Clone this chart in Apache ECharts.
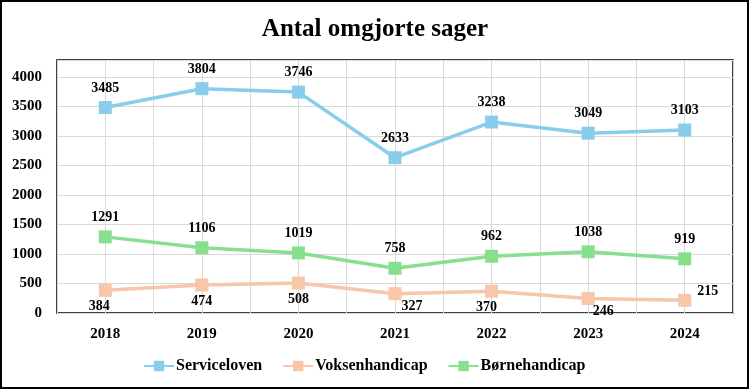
<!DOCTYPE html>
<html>
<head>
<meta charset="utf-8">
<script src="https://cdn.jsdelivr.net/npm/echarts@6/dist/echarts.min.js"></script>
<style>
html,body{margin:0;padding:0;background:#fff;}
#chart{width:750px;height:390px;}
</style>
</head>
<body>
<div id="chart"></div>
<script>
const categories = ['2018','2019','2020','2021','2022','2023','2024'];
const serviceloven = [3485, 3804, 3746, 2633, 3238, 3049, 3103];
const voksenhandicap = [384, 474, 508, 327, 370, 246, 215];
const boernehandicap = [1291, 1106, 1019, 758, 962, 1038, 919];
const yTicks = [0, 500, 1000, 1500, 2000, 2500, 3000, 3500, 4000];

const FONT = '"Liberation Serif", "DejaVu Serif", serif';
const lblStyle = {fontFamily: FONT, fontWeight: 'bold', fontSize: 14, color: '#000'};

// label placement for Voksenhandicap points
const voksLabelPos = [
  {position: 'bottom', distance: 3, offset: [-6, 0]},
  {position: 'bottom', distance: 3, offset: [0, 0]},
  {position: 'bottom', distance: 3, offset: [0, 0]},
  {position: 'bottom', distance: 3, offset: [17, -4]},
  {position: 'bottom', distance: 3, offset: [-5, 0]},
  {position: 'bottom', distance: 3, offset: [15, -4]},
  {position: 'right', offset: [0, -9]}
];

const chart = echarts.init(document.getElementById('chart'), null, {renderer: 'canvas'});

function seriesDef(name, data, color, labelPos) {
  return {
    name: name,
    type: 'line',
    xAxisIndex: 0,
    data: data.map((v, i) => {
      const d = {value: v};
      if (labelPos) d.label = labelPos[i];
      return d;
    }),
    symbol: 'rect',
    symbolSize: 13,
    lineStyle: {color: color, width: 3.5},
    itemStyle: {color: color},
    label: Object.assign({show: true, position: 'top', distance: 6}, lblStyle),
    emphasis: {disabled: true},
    animation: false
  };
}

chart.setOption({
  animation: false,
  title: {
    text: 'Antal omgjorte sager',
    left: 'center',
    top: 12,
    textStyle: {fontFamily: FONT, fontWeight: 'bold', fontSize: 25, color: '#000'}
  },
  grid: {
    left: 57, right: 17, top: 60, bottom: 77,
    show: true, borderColor: '#000', borderWidth: 1.5, backgroundColor: 'transparent'
  },
  legend: {
    bottom: 11,
    left: 138,
    itemWidth: 30,
    itemHeight: 13,
    itemGap: 20,
    textStyle: {fontFamily: FONT, fontWeight: 'bold', fontSize: 16, color: '#000', padding: [0, 0, 0, -3]},
    data: ['Serviceloven', 'Voksenhandicap', 'Børnehandicap']
  },
  xAxis: [{
    type: 'category',
    data: categories,
    boundaryGap: true,
    axisLine: {show: false},
    axisTick: {show: false},
    splitLine: {show: false},
    axisLabel: Object.assign({margin: 14}, lblStyle, {fontSize: 15})
  }, {
    type: 'value',
    min: 0, max: 14, interval: 1,
    position: 'top',
    axisLine: {show: false},
    axisTick: {show: false},
    axisLabel: {show: false},
    splitLine: {show: true, lineStyle: {color: '#d9d9d9', width: 1}}
  }],
  yAxis: {
    type: 'value',
    min: 0,
    max: 4290,
    interval: 500,
    axisLine: {show: false},
    axisTick: {show: false},
    splitLine: {show: true, lineStyle: {color: '#d9d9d9', width: 1}},
    axisLabel: Object.assign({
      margin: 15,
      showMaxLabel: false,
      formatter: v => (yTicks.indexOf(v) >= 0 ? String(v) : '')
    }, lblStyle, {fontSize: 15})
  },
  series: [
    seriesDef('Serviceloven', serviceloven, '#88CDEB', null),
    seriesDef('Voksenhandicap', voksenhandicap, '#F8C6A8', voksLabelPos),
    seriesDef('Børnehandicap', boernehandicap, '#88E08F', null)
  ],
  graphic: [{
    type: 'rect',
    shape: {x: 1, y: 1, width: 747, height: 387},
    style: {fill: 'none', stroke: '#000', lineWidth: 2},
    silent: true,
    z: 100
  }]
});
</script>
</body>
</html>
